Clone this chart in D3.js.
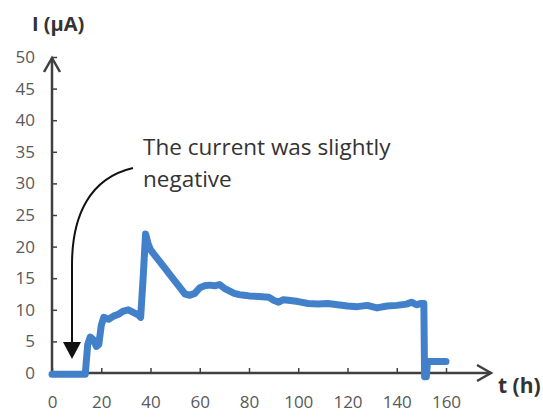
<!DOCTYPE html>
<html><head><meta charset="utf-8">
<script src="https://cdn.jsdelivr.net/npm/d3@7"></script>
<style>body{margin:0;background:#fff;}svg{display:block;}</style>
</head><body>
<svg id="c" width="543" height="417"></svg>
<script>
// Data
const tHours = [0,5,10,13.5,14.5,15.5,17,18,19,20,21,23,25,27,29,31,33,35,36,37,38,39,40,42,44,46,48,50,52,54,56,58,60,62,64,66,68,70,72,74,76,78,80,84,88,90,92,94,96,100,104,108,112,116,120,124,128,132,136,140,144,146,148,150,151,151.3,152,152.5,160];
const currentUA = [-0.2,-0.2,-0.2,-0.2,4.5,5.7,5.2,4.2,4.5,7.5,8.8,8.5,9,9.3,9.8,10,9.6,9.2,8.8,15,22,20.5,19.5,18.5,17.5,16.5,15.5,14.5,13.5,12.5,12.3,12.6,13.5,13.8,13.9,13.8,14,13.4,13,12.6,12.4,12.3,12.2,12.1,12,11.5,11.2,11.6,11.5,11.3,11,10.9,11,10.8,10.6,10.5,10.7,10.3,10.6,10.7,10.9,11.2,10.8,11,11,-0.6,-0.6,1.8,1.8];
const xTicks = [0,20,40,60,80,100,120,140,160];
const yTicks = [0,5,10,15,20,25,30,35,40,45,50];
const yLabel = "I (µA)";
const xLabel = "t (h)";
const noteLines = ["The current was slightly","negative"];

const svg = d3.select("#c");
const x = d3.scaleLinear().domain([0,160]).range([52,446]);
const y = d3.scaleLinear().domain([0,50]).range([373,57]);
const axisColor = "#404040";
const tickFont = "'Open Sans', sans-serif";

// Y axis
const gy = svg.append("g").attr("transform","translate(52,0)")
  .call(d3.axisLeft(y).tickValues(yTicks).tickSize(-5).tickPadding(17));
gy.select(".domain").remove();
gy.selectAll("line").attr("stroke",axisColor).attr("stroke-width",1.5);
gy.selectAll("text").attr("fill","#595959").style("font-family",tickFont).style("font-size","17px");

// X axis
const gx = svg.append("g").attr("transform","translate(0,373)")
  .call(d3.axisBottom(x).tickValues(xTicks).tickSize(-5).tickPadding(23));
gx.select(".domain").remove();
gx.selectAll("line").attr("stroke",axisColor).attr("stroke-width",1.5);
gx.selectAll("text").attr("fill","#595959").style("font-family",tickFont).style("font-size","17px");

// Axis lines with open arrowheads
svg.append("line").attr("x1",52).attr("y1",373).attr("x2",52).attr("y2",58)
  .attr("stroke",axisColor).attr("stroke-width",2.5);
svg.append("path").attr("d","M44,72 L52,58 L60,72").attr("fill","none")
  .attr("stroke",axisColor).attr("stroke-width",2.5);
svg.append("line").attr("x1",52).attr("y1",373).attr("x2",491).attr("y2",373)
  .attr("stroke",axisColor).attr("stroke-width",2.5);
svg.append("path").attr("d","M477,365 L491,373 L477,381").attr("fill","none")
  .attr("stroke",axisColor).attr("stroke-width",2.5);

// Data line
const pts = tHours.map((t,i)=>[t,currentUA[i]]);
const line = d3.line().x(d=>x(d[0])).y(d=>y(d[1]));
svg.append("path").datum(pts).attr("d",line).attr("fill","none")
  .attr("stroke","#4281c9").attr("stroke-width",7).attr("stroke-linejoin","round").attr("stroke-linecap","round");

// Axis labels
svg.append("text").attr("x",32).attr("y",31).text(yLabel)
  .attr("fill","#333").style("font-family","'Open Sans', sans-serif").style("font-size","20px").style("font-weight","bold");
svg.append("text").attr("x",498).attr("y",393).text(xLabel)
  .attr("fill","#333").style("font-family","'Open Sans', sans-serif").style("font-size","21px").style("font-weight","bold");

// Annotation
svg.selectAll("text.note").data(noteLines).enter().append("text").attr("class","note")
  .attr("x",143).attr("y",(d,i)=>155+i*32).text(d=>d)
  .attr("fill","#333").style("font-family","'Open Sans', sans-serif").style("font-size","22.5px");

// Curved arrow
svg.append("path").attr("d","M133,168 C90,178 72,215 72,265 L72,345")
  .attr("fill","none").attr("stroke","#111").attr("stroke-width",2);
svg.append("path").attr("d","M63,342 L81,342 L72,359 Z").attr("fill","#111");
</script>
</body></html>
